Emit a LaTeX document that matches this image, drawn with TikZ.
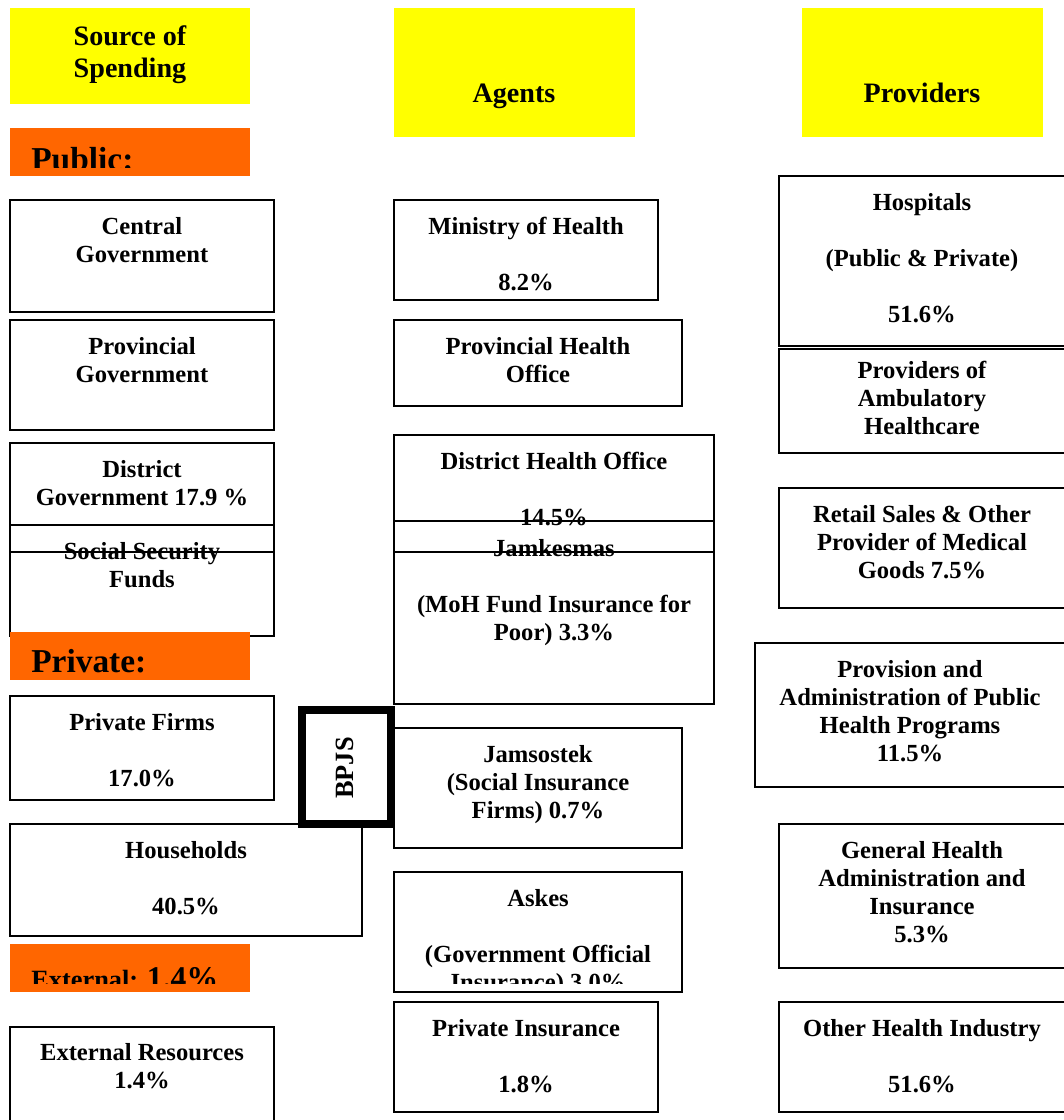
\documentclass[tikz,border=0pt]{standalone}
\usepackage{fontspec}
\setmainfont{Liberation Serif}
\usetikzlibrary{positioning}
\definecolor{hdrYellow}{RGB}{255,255,0}
\definecolor{secOrange}{RGB}{255,102,0}

\tikzset{
  cell/.style={draw=black, line width=1.2pt},
  celltext/.style={anchor=north, align=center, inner sep=0pt, font=\fontsize{14}{15.9}\selectfont\bfseries},
  hdr/.style={fill=hdrYellow},
  hdrtext/.style={align=center, inner sep=0pt, font=\fontsize{16}{18}\selectfont\bfseries},
  sec/.style={fill=secOrange},
  sectext/.style={anchor=base west, inner sep=0pt, font=\fontsize{19}{22}\selectfont\bfseries},
}

\begin{document}
\begin{tikzpicture}[x=0.02cm, y=-0.02cm]
    \clip (0,0) rectangle (1064,1120);
    \fill[white] (0,0) rectangle (1064,1120);

    % column headers
    \fill[hdr] (10,8) rectangle (250,104);
    \node[hdrtext] (srchdr) at (130,55) {Source of\\Spending};
    \fill[hdr] (394,8) rectangle (635,137);
    \node[hdrtext] (agthdr) at (514,96) {Agents};
    \fill[hdr] (802,8) rectangle (1043,137);
    \node[hdrtext] (prvhdr) at (922,93) {Providers};

    % sources of spending
    \draw[cell] (10,200) rectangle (274,312);
    \node[celltext] (cgov) at (142,217) {Central\\Government};
    \draw[cell] (10,320) rectangle (274,430);
    \node[celltext] (pgov) at (142,337) {Provincial\\Government};
    \draw[cell] (10,443) rectangle (274,552);
    \node[celltext] (dgov) at (142,460) {District\\Government 17.9 \%};
    \draw[cell] (10,525) rectangle (274,636);
    \node[celltext] (ssf) at (142,542) {Social Security\\Funds};
    \draw[cell] (10,696) rectangle (274,800);
    \node[celltext] (firms) at (142,713) {Private Firms\\[15.9pt]17.0\%};
    \draw[cell] (10,824) rectangle (362,936);
    \node[celltext] (hholds) at (186,841) {Households\\[15.9pt]40.5\%};
    \draw[cell] (10,1027) rectangle (274,1130);
    \node[celltext] (extres) at (142,1043) {External Resources\\1.4\%};

    % section labels
    \fill[sec] (10,128) rectangle (250,176);
    \begin{scope}
      \clip (10,128) rectangle (250,167);
      \node[sectext] (public) at (31,170) {Public:};
    \end{scope}
    \fill[sec] (10,632) rectangle (250,680);
    \node[sectext] (private) at (31,672) {Private:};
    \fill[sec] (10,944) rectangle (250,992);
    \begin{scope}
      \clip (10,944) rectangle (250,983);
      \node[sectext] (external) at (31,988) {\fontsize{15}{18}\selectfont External: \fontsize{18}{20}\selectfont 1.4\%};
    \end{scope}

    % agents
    \draw[cell] (394,200) rectangle (658,300);
    \node[celltext] (moh) at (526,217) {Ministry of Health\\[15.9pt]8.2\%};
    \draw[cell] (394,320) rectangle (682,406);
    \node[celltext] (pho) at (538,337) {Provincial Health\\Office};
    \draw[cell] (394,435) rectangle (714,552);
    \node[celltext] (dho) at (554,452) {District Health Office\\[15.9pt]14.5\%};
    \draw[cell] (394,521) rectangle (714,704);
    \node[celltext] (jamkesmas) at (554,539) {Jamkesmas\\[15.9pt](MoH Fund Insurance for\\Poor) 3.3\%};
    \draw[cell] (394,728) rectangle (682,848);
    \node[celltext] (jamsostek) at (538,745) {Jamsostek\\(Social Insurance\\Firms) 0.7\%};
    \draw[cell] (394,872) rectangle (682,992);
    \begin{scope}
      \clip (394,872) rectangle (682,983);
      \node[celltext] (askes) at (538,889) {Askes\\[15.9pt](Government Official\\Insurance) 3.0\%};
    \end{scope}
    \draw[cell] (394,1002) rectangle (658,1112);
    \node[celltext] (privins) at (526,1019) {Private Insurance\\[15.9pt]1.8\%};

    % BPJS
    \draw[line width=4.5pt, fill=white] (302,710) rectangle (391,824);
    \node[rotate=90, inner sep=0pt, font=\fontsize{15}{18}\selectfont\bfseries] (bpjs) at (345,768) {BPJS};

    % providers
    \draw[cell] (779,176) rectangle (1070,346);
    \node[celltext] (hosp) at (922,193) {Hospitals\\[15.9pt](Public \& Private)\\[15.9pt]51.6\%};
    \draw[cell] (779,349) rectangle (1070,453);
    \node[celltext] (ambul) at (922,361) {Providers of\\Ambulatory\\Healthcare};
    \draw[cell] (779,488) rectangle (1070,608);
    \node[celltext] (retail) at (922,505) {Retail Sales \& Other\\Provider of Medical\\Goods 7.5\%};
    \draw[cell] (755,643) rectangle (1070,787);
    \node[celltext] (pubhealth) at (910,660) {Provision and\\Administration of Public\\Health Programs\\11.5\%};
    \draw[cell] (779,824) rectangle (1070,968);
    \node[celltext] (genadmin) at (922,841) {General Health\\Administration and\\Insurance\\5.3\%};
    \draw[cell] (779,1002) rectangle (1070,1112);
    \node[celltext] (otherind) at (922,1019) {Other Health Industry\\[15.9pt]51.6\%};
\end{tikzpicture}
\end{document}
